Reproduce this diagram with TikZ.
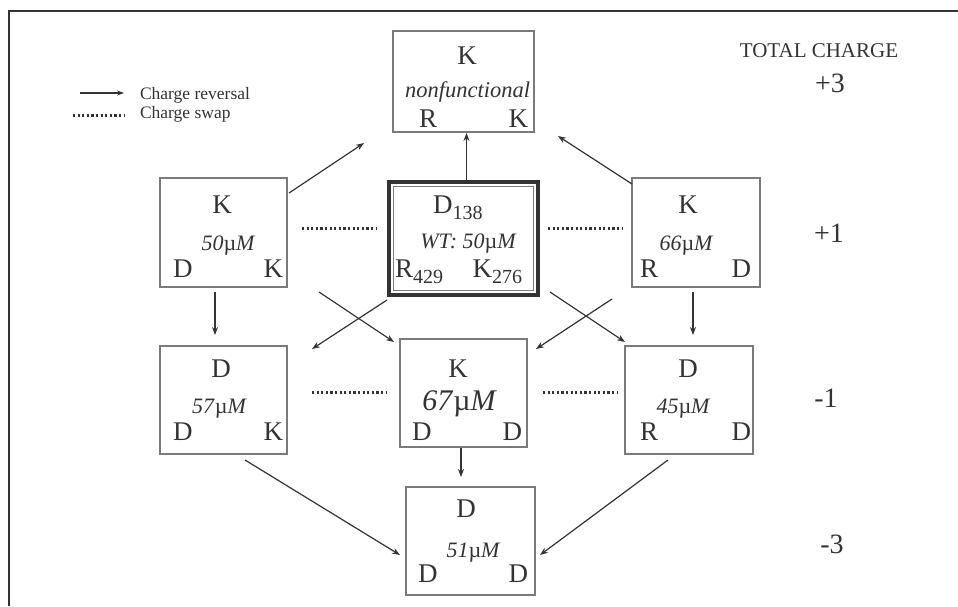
\documentclass[tikz,border=0pt]{standalone}
\usepackage{fontspec}
\setmainfont{Liberation Serif}
\usetikzlibrary{calc,arrows.meta}
\definecolor{ink}{HTML}{333333}
\definecolor{edge}{HTML}{7A7A7A}
\newcommand{\fs}[1]{\fontsize{#1}{#1}\selectfont}
\newcommand{\um}{\textup{µ}\textit{M}}
\newcommand{\sbs}[1]{\raisebox{-6pt}{\fs{20}#1}}
\begin{document}
\begin{tikzpicture}[x=1pt,y=-1pt,
 box/.style={draw=edge,line width=1.1pt,rectangle,inner sep=0,outer sep=0},
 lab/.style={inner sep=0,outer sep=0,text=ink},
 big/.style={lab,font=\fs{27}},
 conc/.style={lab,font=\fs{22}\itshape},
 chg/.style={lab,font=\fs{28}},
 legtxt/.style={lab,font=\fs{17.5},anchor=base west},
 arr/.style={draw=ink,line width=1.2pt,-{Stealth[length=8pt,width=6pt]}},
 swap/.style={draw=ink,line width=3pt,dash pattern=on 2.2pt off 2.4pt},
 frame/.style={draw=ink,line width=1.5pt}
]
\useasboundingbox (0,0) rectangle (958,606);
% frame
\coordinate (f1) at (9,606);
\coordinate (f2) at (9,11);
\coordinate (f3) at (958,11);
\draw[frame] (f1) -- (f2) -- (f3);

% boxes
\node[box,minimum width=141,minimum height=101] (top) at (463.5,81.5) {};
\node[box,minimum width=127,minimum height=109] (lu) at (223.5,232.5) {};
\node[box,minimum width=128,minimum height=109] (ru) at (696,232.5) {};
\node[box,draw=ink,line width=4pt,minimum width=149,minimum height=113] (wt) at (463.5,238.5) {};
\draw[edge,line width=1.1pt] ($(wt.north west)+(4.5,4.5)$) rectangle ($(wt.south east)+(-4.5,-4.5)$);
\node[box,minimum width=127,minimum height=108] (ml) at (223.5,400) {};
\node[box,minimum width=127,minimum height=108] (mc) at (463.5,393) {};
\node[box,minimum width=128,minimum height=108] (rm) at (689,400) {};
\node[box,minimum width=129,minimum height=108] (bot) at (470.5,541) {};

% top box texts
\node[big,anchor=base] (top-t) at (467,64) {K};
\node[lab,font=\fs{22.5}\itshape,anchor=base] (top-c) at (467.5,97) {nonfunctional};
\node[big,anchor=base west] (top-l) at (419,127) {R};
\node[big,anchor=base east] (top-r) at (528,127) {K};

% left upper
\node[big,anchor=base] (lu-t) at (222,213) {K};
\node[conc,anchor=base] (lu-c) at (228,250) {50\um};
\node[big,anchor=base west] (lu-l) at (173,277) {D};
\node[big,anchor=base east] (lu-r) at (283,277) {K};

% right upper
\node[big,anchor=base] (ru-t) at (688,213) {K};
\node[conc,anchor=base] (ru-c) at (686,250) {66\um};
\node[big,anchor=base west] (ru-l) at (640,277) {R};
\node[big,anchor=base east] (ru-r) at (751,277) {D};

% wild type
\node[big,anchor=base west] (wt-t) at (433,213) {D\sbs{138}};
\node[conc,anchor=base] (wt-c) at (468,248) {WT: 50\um};
\node[big,anchor=base west] (wt-l) at (395,277) {R\sbs{429}};
\node[big,anchor=base east] (wt-r) at (522,277) {K\sbs{276}};

% left middle
\node[big,anchor=base] (ml-t) at (221,377) {D};
\node[conc,anchor=base] (ml-c) at (219,413) {57\um};
\node[big,anchor=base west] (ml-l) at (173,440) {D};
\node[big,anchor=base east] (ml-r) at (283,440) {K};

% middle centre
\node[big,anchor=base] (mc-t) at (458,377) {K};
\node[lab,font=\fs{30}\itshape,anchor=base] (mc-c) at (459,410) {67\um};
\node[big,anchor=base west] (mc-l) at (412,440) {D};
\node[big,anchor=base east] (mc-r) at (522,440) {D};

% right middle
\node[big,anchor=base] (rm-t) at (688,377) {D};
\node[conc,anchor=base] (rm-c) at (683,413) {45\um};
\node[big,anchor=base west] (rm-l) at (640,440) {R};
\node[big,anchor=base east] (rm-r) at (751,440) {D};

% bottom
\node[big,anchor=base] (bot-t) at (466,517) {D};
\node[conc,anchor=base] (bot-c) at (473,557) {51\um};
\node[big,anchor=base west] (bot-l) at (418,582) {D};
\node[big,anchor=base east] (bot-r) at (528,582) {D};

% total charge
\node[lab,font=\fs{21},anchor=base] (tc) at (819,57) {TOTAL CHARGE};
\node[chg,anchor=base] (c3) at (830,92) {+3};
\node[chg,anchor=base] (c1) at (829,242) {+1};
\node[chg,anchor=base] (cm1) at (826,407) {-1};
\node[chg,anchor=base] (cm3) at (832,553) {-3};

% legend
\coordinate (la1) at (80,93);
\coordinate (la2) at (124,93);
\coordinate (ld1) at (73,115);
\coordinate (ld2) at (125,115);
\draw[arr,-{Stealth[length=7pt,width=5pt]}] (la1) -- (la2);
\draw[swap] (ld1) -- (ld2);
\node[legtxt] (lt1) at (140,99) {Charge reversal};
\node[legtxt] (lt2) at (140,118) {Charge swap};

% charge reversal arrows
\draw[arr] ($(wt.north)+(3,-2)$) -- ($(top.south)+(3,1)$);
\draw[arr] ($(lu.north east)+(2,15)$) -- ($(top.south west)+(-29,11)$);
\draw[arr] ($(ru.north west)+(0,6)$) -- ($(top.south east)+(24,4)$);
\draw[arr] ($(lu.south)+(-8.5,5)$) -- ($(ml.north)+(-8.5,-11)$);
\draw[arr] ($(ru.south)+(-3,5)$) -- ($(rm.north)+(4,-11)$);
\draw[arr] ($(wt.south west)+(-2,5)$) -- ($(ml.north east)+(25,3)$);
\draw[arr] ($(lu.south east)+(32,5)$) -- ($(mc.north west)+(-6,3)$);
\draw[arr] ($(wt.south east)+(12,-3)$) -- ($(rm.north west)+(0,-4)$);
\draw[arr] ($(ru.south west)+(-20,12)$) -- ($(mc.north east)+(9,10)$);
\draw[arr] ($(mc.south)+(-2.5,1)$) -- ($(bot.north)+(-9.5,-10)$);
\draw[arr] ($(ml.south)+(21.5,6)$) -- ($(bot.west)+(-6,14)$);
\draw[arr] ($(rm.south)+(-21,6)$) -- ($(bot.east)+(5,14)$);

% charge swap lines
\draw[swap] ($(lu.east)+(15,-4.5)$) -- ($(wt.west)+(-12,-10.5)$);
\draw[swap] ($(wt.east)+(10,-10.5)$) -- ($(ru.west)+(-9,-4.5)$);
\draw[swap] ($(ml.east)+(25,-8)$) -- ($(mc.west)+(-13,-1)$);
\draw[swap] ($(mc.east)+(16,-1)$) -- ($(rm.west)+(-7,-8)$);
\end{tikzpicture}
\end{document}
